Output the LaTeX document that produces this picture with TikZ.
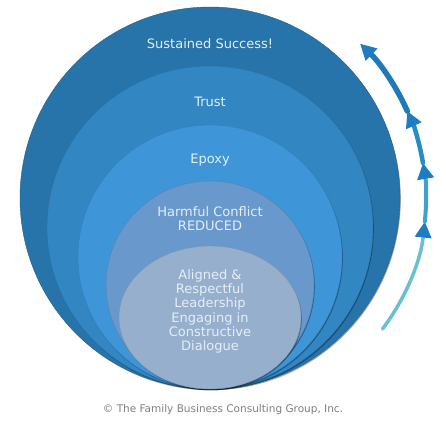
\documentclass[tikz,border=0pt]{standalone}
\usepackage{fontspec}
\setmainfont{DejaVu Sans}
\usetikzlibrary{arrows.meta,shadows,calc}

\definecolor{ringA}{RGB}{38,116,170}
\definecolor{ringB}{RGB}{50,134,194}
\definecolor{ringC}{RGB}{62,150,216}
\definecolor{ringD}{RGB}{104,152,204}
\definecolor{ringE}{RGB}{150,175,205}
\definecolor{labelwhite}{RGB}{228,238,246}
\definecolor{arrowA}{RGB}{104,192,212}
\definecolor{arrowB}{RGB}{64,162,204}
\definecolor{arrowC}{RGB}{42,140,196}
\definecolor{arrowD}{RGB}{32,122,184}
\definecolor{tipblue}{RGB}{30,124,194}

\tikzset{
  ring/.style={fill=#1, draw=#1!85!black, line width=0.4pt,
    drop shadow={shadow xshift=0.8pt, shadow yshift=-1.2pt, opacity=0.35, fill=black}},
  ringtext/.style={text=labelwhite, font=\fontsize{13}{14.3}\selectfont, align=center, inner sep=0pt},
  arcseg/.style={line width=#1, line cap=round},
  tip/.style={-{Triangle[length=16pt,width=16pt,color=tipblue]}}
}

\begin{document}
\begin{tikzpicture}[x=1pt,y=1pt]
  \useasboundingbox (0,0) rectangle (446,423);
  \fill[white] (0,0) rectangle (446,423);
  % nested rings, all touching at the bottom
  \path[ring=ringA] (210,225) ellipse [x radius=190, y radius=191];
  \path[ring=ringB] (210,195.5) ellipse [x radius=163, y radius=161.5];
  \path[ring=ringC] (210,166) circle [radius=132];
  \path[ring=ringD] (210,138) circle [radius=104];
  \path[ring=ringE] (210,105.5) ellipse [x radius=91, y radius=71.5];
  % labels
  \node[ringtext] (success) at (210,379) {Sustained Success!};
  \node[ringtext] (trust) at (210,321) {Trust};
  \node[ringtext] (epoxy) at (210,263) {Epoxy};
  \node[ringtext] (harmful) at (210,204) {Harmful Conflict\\REDUCED};
  \node[ringtext] (aligned) at (210,111.5) {Aligned \&\\Respectful\\Leadership\\Engaging in\\Constructive\\Dialogue};
  \node[font=\fontsize{10.5}{12}\selectfont, text=gray] (copyright) at (223,13)
    {\textcopyright\ The Family Business Consulting Group, Inc.};
  % growth arrow
  \coordinate (hub) at (210,224);
  \coordinate (a0) at ($(hub)+(-37:216)$);
  \coordinate (a1) at ($(hub)+(-6:216)$);
  \coordinate (a2) at ($(hub)+(9.6:216)$);
  \coordinate (a3) at ($(hub)+(24:216)$);
  \draw[arcseg=3.5pt, arrowA, tip] (a0) arc[start angle=-37, end angle=-6, radius=216];
  \draw[arcseg=4pt, arrowB, tip] (a1) arc[start angle=-6, end angle=9.6, radius=216];
  \draw[arcseg=4.5pt, arrowC, tip] (a2) arc[start angle=9.6, end angle=24, radius=216];
  \draw[arcseg=5.5pt, arrowD, tip] (a3) arc[start angle=24, end angle=46, radius=216];
\end{tikzpicture}
\end{document}
